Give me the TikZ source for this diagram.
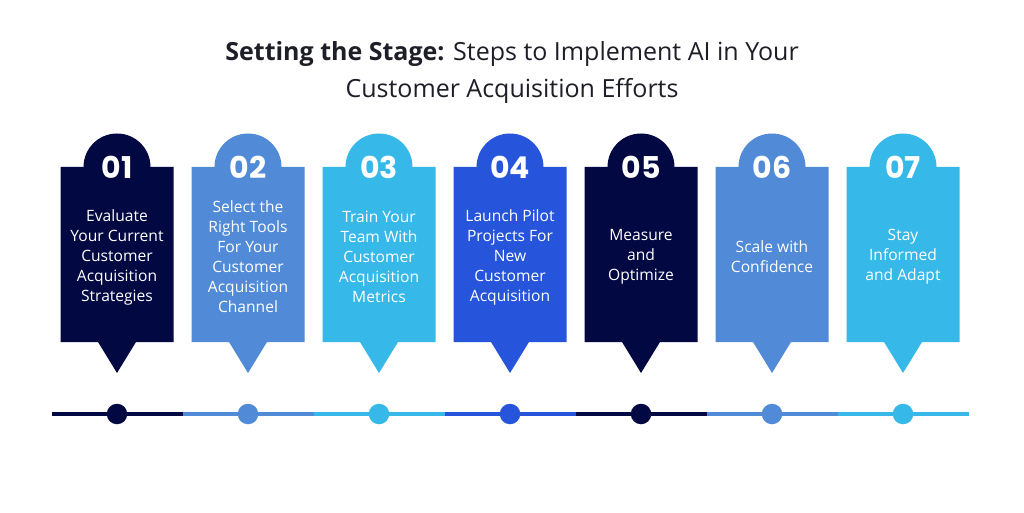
\documentclass[tikz,border=0pt]{standalone}
\usepackage{fontspec}
\setmainfont{Open Sans}
\newfontfamily\numfont{Poppins}
\definecolor{cnavy}{HTML}{020842}
\definecolor{cmid}{HTML}{518AD6}
\definecolor{clight}{HTML}{36B9E9}
\definecolor{croyal}{HTML}{2655DC}
\definecolor{ctitle}{HTML}{1E1E28}
\begin{document}
\begin{tikzpicture}[x=1pt,y=1pt,
  steptext/.style={text=white,align=center,font=\fontsize{15.6}{20}\selectfont,inner sep=0pt},
  stepnum/.style={text=white,font=\numfont\bfseries\fontsize{30}{32}\selectfont,inner sep=0pt},
  dot/.style={circle,minimum size=20.5pt,inner sep=0pt},
  titletext/.style={text=ctitle,font=\fontsize{25}{30}\selectfont,inner sep=0pt}]
\useasboundingbox[fill=white] (0,0) rectangle (1024,512);
\node[titletext] (t1) at (512,457.5) {\textbf{Setting the Stage:} Steps to Implement AI in Your};
\node[titletext] (t2) at (512,421.5) {Customer Acquisition Efforts};
\foreach \i/\c/\txt in {
  1/cnavy/{Evaluate\\Your Current\\Customer\\Acquisition\\Strategies},
  2/cmid/{Select the\\Right Tools\\For Your\\Customer\\Acquisition\\Channel},
  3/clight/{Train Your\\Team With\\Customer\\Acquisition\\Metrics},
  4/croyal/{Launch Pilot\\Projects For\\New\\Customer\\Acquisition},
  5/cnavy/{Measure\\and\\Optimize},
  6/cmid/{Scale with\\Confidence},
  7/clight/{Stay\\Informed\\and Adapt}}{
  \pgfmathsetmacro{\cx}{117+131*(\i-1)}
  \fill[\c] (\cx-56.5,170) -- (\cx-56.5,345) -- (\cx-33.5,345)
     arc[start angle=180,end angle=0,radius=33.5] -- (\cx+56.5,345) -- (\cx+56.5,170)
     -- (\cx+19,170) -- (\cx,139) -- (\cx-19,170) -- cycle;
  \node[stepnum] (n\i) at (\cx,344.5) {0\i};
  \node[steptext] (s\i) at (\cx,255) {\txt};
  \fill[\c] (\cx-65.5,96) rectangle (\cx+65.5,100);
  \node[dot,fill=\c] (d\i) at (\cx,98) {};
}
\fill[white] (0,90) rectangle (51,106);
\fill[white] (969,90) rectangle (1024,106);
\end{tikzpicture}
\end{document}
